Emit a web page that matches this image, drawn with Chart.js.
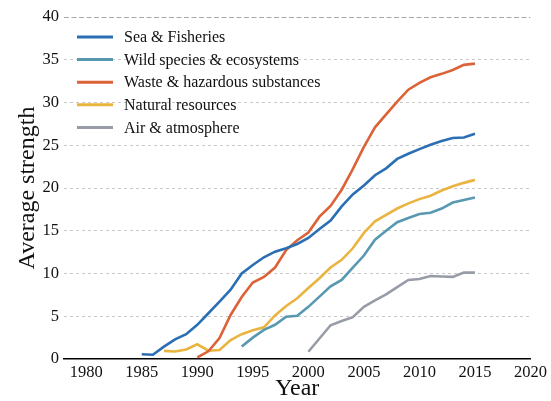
<!DOCTYPE html>
<html>
<head>
<meta charset="utf-8">
<title>Average strength by year</title>
<script src="https://cdn.jsdelivr.net/npm/chart.js@4/dist/chart.umd.min.js"></script>
<style>
  html, body { margin: 0; padding: 0; background: #fff; }
  #chartDiv { width: 551px; height: 401px; }
</style>
</head>
<body>
<div id="chartDiv"><canvas id="myChart" width="551" height="401"></canvas></div>
<script>
// Years 1985-2015; null where a series has no value yet
const years = [1985, 1986, 1987, 1988, 1989, 1990, 1991, 1992, 1993, 1994, 1995,
  1996, 1997, 1998, 1999, 2000, 2001, 2002, 2003, 2004, 2005,
  2006, 2007, 2008, 2009, 2010, 2011, 2012, 2013, 2014, 2015];

const seaFisheries = [0.55, 0.5, 1.45, 2.3, 2.9, 4.0, 5.35, 6.7, 8.1, 10.0, 11.0,
  11.9, 12.55, 12.95, 13.45, 14.15, 15.2, 16.2, 17.85, 19.25, 20.3,
  21.5, 22.3, 23.4, 24.0, 24.55, 25.05, 25.5, 25.85, 25.9, 26.35];

const wildSpecies = [null, null, null, null, null, null, null, null, null, 1.45, 2.5,
  3.4, 4.0, 4.95, 5.05, 6.1, 7.3, 8.5, 9.25, 10.7, 12.1,
  13.95, 15.0, 16.0, 16.5, 16.95, 17.1, 17.6, 18.3, 18.6, 18.9];

const wasteHazardous = [null, null, null, null, null, 0.2, 0.9, 2.45, 5.15, 7.25, 8.95,
  9.6, 10.7, 12.75, 13.9, 14.8, 16.65, 17.9, 19.8, 22.2, 24.8,
  27.1, 28.6, 30.1, 31.5, 32.3, 32.95, 33.35, 33.8, 34.4, 34.55];

const naturalResources = [null, null, 0.95, 0.88, 1.12, 1.72, 0.97, 1.05, 2.22, 2.9, 3.35,
  3.7, 5.1, 6.2, 7.1, 8.3, 9.45, 10.7, 11.6, 12.95, 14.75,
  16.1, 16.85, 17.6, 18.2, 18.7, 19.1, 19.7, 20.2, 20.6, 20.95];

const airAtmosphere = [null, null, null, null, null, null, null, null, null, null, null,
  null, null, null, null, 0.85, 2.4, 3.95, 4.45, 4.9, 6.1,
  6.85, 7.55, 8.4, 9.25, 9.35, 9.7, 9.65, 9.6, 10.1, 10.1];

const seriesNames = ["Sea & Fisheries", "Wild species & ecosystems",
  "Waste & hazardous substances", "Natural resources", "Air & atmosphere"];
const seriesColors = ["#2a6fb4", "#5898b0", "#dc6238", "#e9b43f", "#979ca7"];
const seriesValues = [seaFisheries, wildSpecies, wasteHazardous, naturalResources, airAtmosphere];

const xTicks = [1980, 1985, 1990, 1995, 2000, 2005, 2010, 2015, 2020];
const yTicks = [0, 5, 10, 15, 20, 25, 30, 35, 40];

const serif = "'Liberation Serif', 'DejaVu Serif', serif";

function toPoints(values) {
  const pts = [];
  values.forEach((v, i) => {
    if (v !== null) pts.push({ x: years[i], y: v });
  });
  return pts;
}

// Legend drawn inside the plot, top left, with short line swatches
const lineLegend = {
  id: "lineLegend",
  afterDatasetsDraw(chart) {
    const ctx = chart.ctx;
    const area = chart.chartArea;
    ctx.save();
    ctx.font = "16px " + serif;
    ctx.textBaseline = "middle";
    chart.data.datasets.forEach((ds, i) => {
      const y = area.top + 20 + i * 22.6;
      ctx.strokeStyle = ds.borderColor;
      ctx.lineWidth = 3;
      ctx.beginPath();
      ctx.moveTo(area.left + 13, y);
      ctx.lineTo(area.left + 49, y);
      ctx.stroke();
      ctx.fillStyle = "#111";
      ctx.fillText(ds.label, area.left + 60, y + 1);
    });
    ctx.restore();
  }
};

const ctx = document.getElementById("myChart");

new Chart(ctx, {
  type: "line",
  data: {
    datasets: seriesNames.map((name, i) => ({
      label: name,
      data: toPoints(seriesValues[i]),
      borderColor: seriesColors[i],
      backgroundColor: seriesColors[i],
      borderWidth: 2.6,
      pointRadius: 0,
      tension: 0,
      fill: false,
    })),
  },
  options: {
    responsive: false,
    animation: false,
    layout: { padding: { left: 0, right: 17, top: 17, bottom: 0 } },
    plugins: {
      legend: { display: false },
      tooltip: { enabled: false },
    },
    scales: {
      x: {
        type: "linear",
        min: 1978,
        max: 2020,
        afterBuildTicks: (scale) => { scale.ticks = xTicks.map((v) => ({ value: v })); },
        afterFit: (scale) => { scale.height = 42; },
        grid: { display: false, drawTicks: false, tickLength: 0 },
        border: { display: true, color: "#000", width: 1.5 },
        ticks: {
          color: "#111",
          font: { family: serif, size: 16.5 },
          padding: 4,
          maxRotation: 0,
          callback: (v) => String(v),
        },
        title: {
          display: true,
          text: "Year",
          color: "#111",
          font: { family: serif, size: 24, lineHeight: 1 },
          padding: { top: 0, bottom: 0 },
        },
      },
      y: {
        min: 0,
        max: 40,
        afterBuildTicks: (scale) => { scale.ticks = yTicks.map((v) => ({ value: v })); },
        afterFit: (scale) => { scale.width = 64; },
        grid: {
          drawTicks: false,
          lineWidth: 1,
          color: (c) => c.tick.value === 0 ? "rgba(0,0,0,0)" :
            (c.tick.value === 40 ? "#a8a8a8" : "#c8c8c8"),
        },
        border: {
          display: false,
          dash: (c) => c.tick && c.tick.value === 40 ? [5, 2.5] : [3, 3],
        },
        ticks: {
          color: "#111",
          font: { family: serif, size: 16.5 },
          padding: 5,
        },
        title: {
          display: true,
          text: "Average strength",
          color: "#111",
          font: { family: serif, size: 24, lineHeight: 1 },
          padding: { top: 16, bottom: 0 },
        },
      },
    },
  },
  plugins: [lineLegend],
});
</script>
</body>
</html>
